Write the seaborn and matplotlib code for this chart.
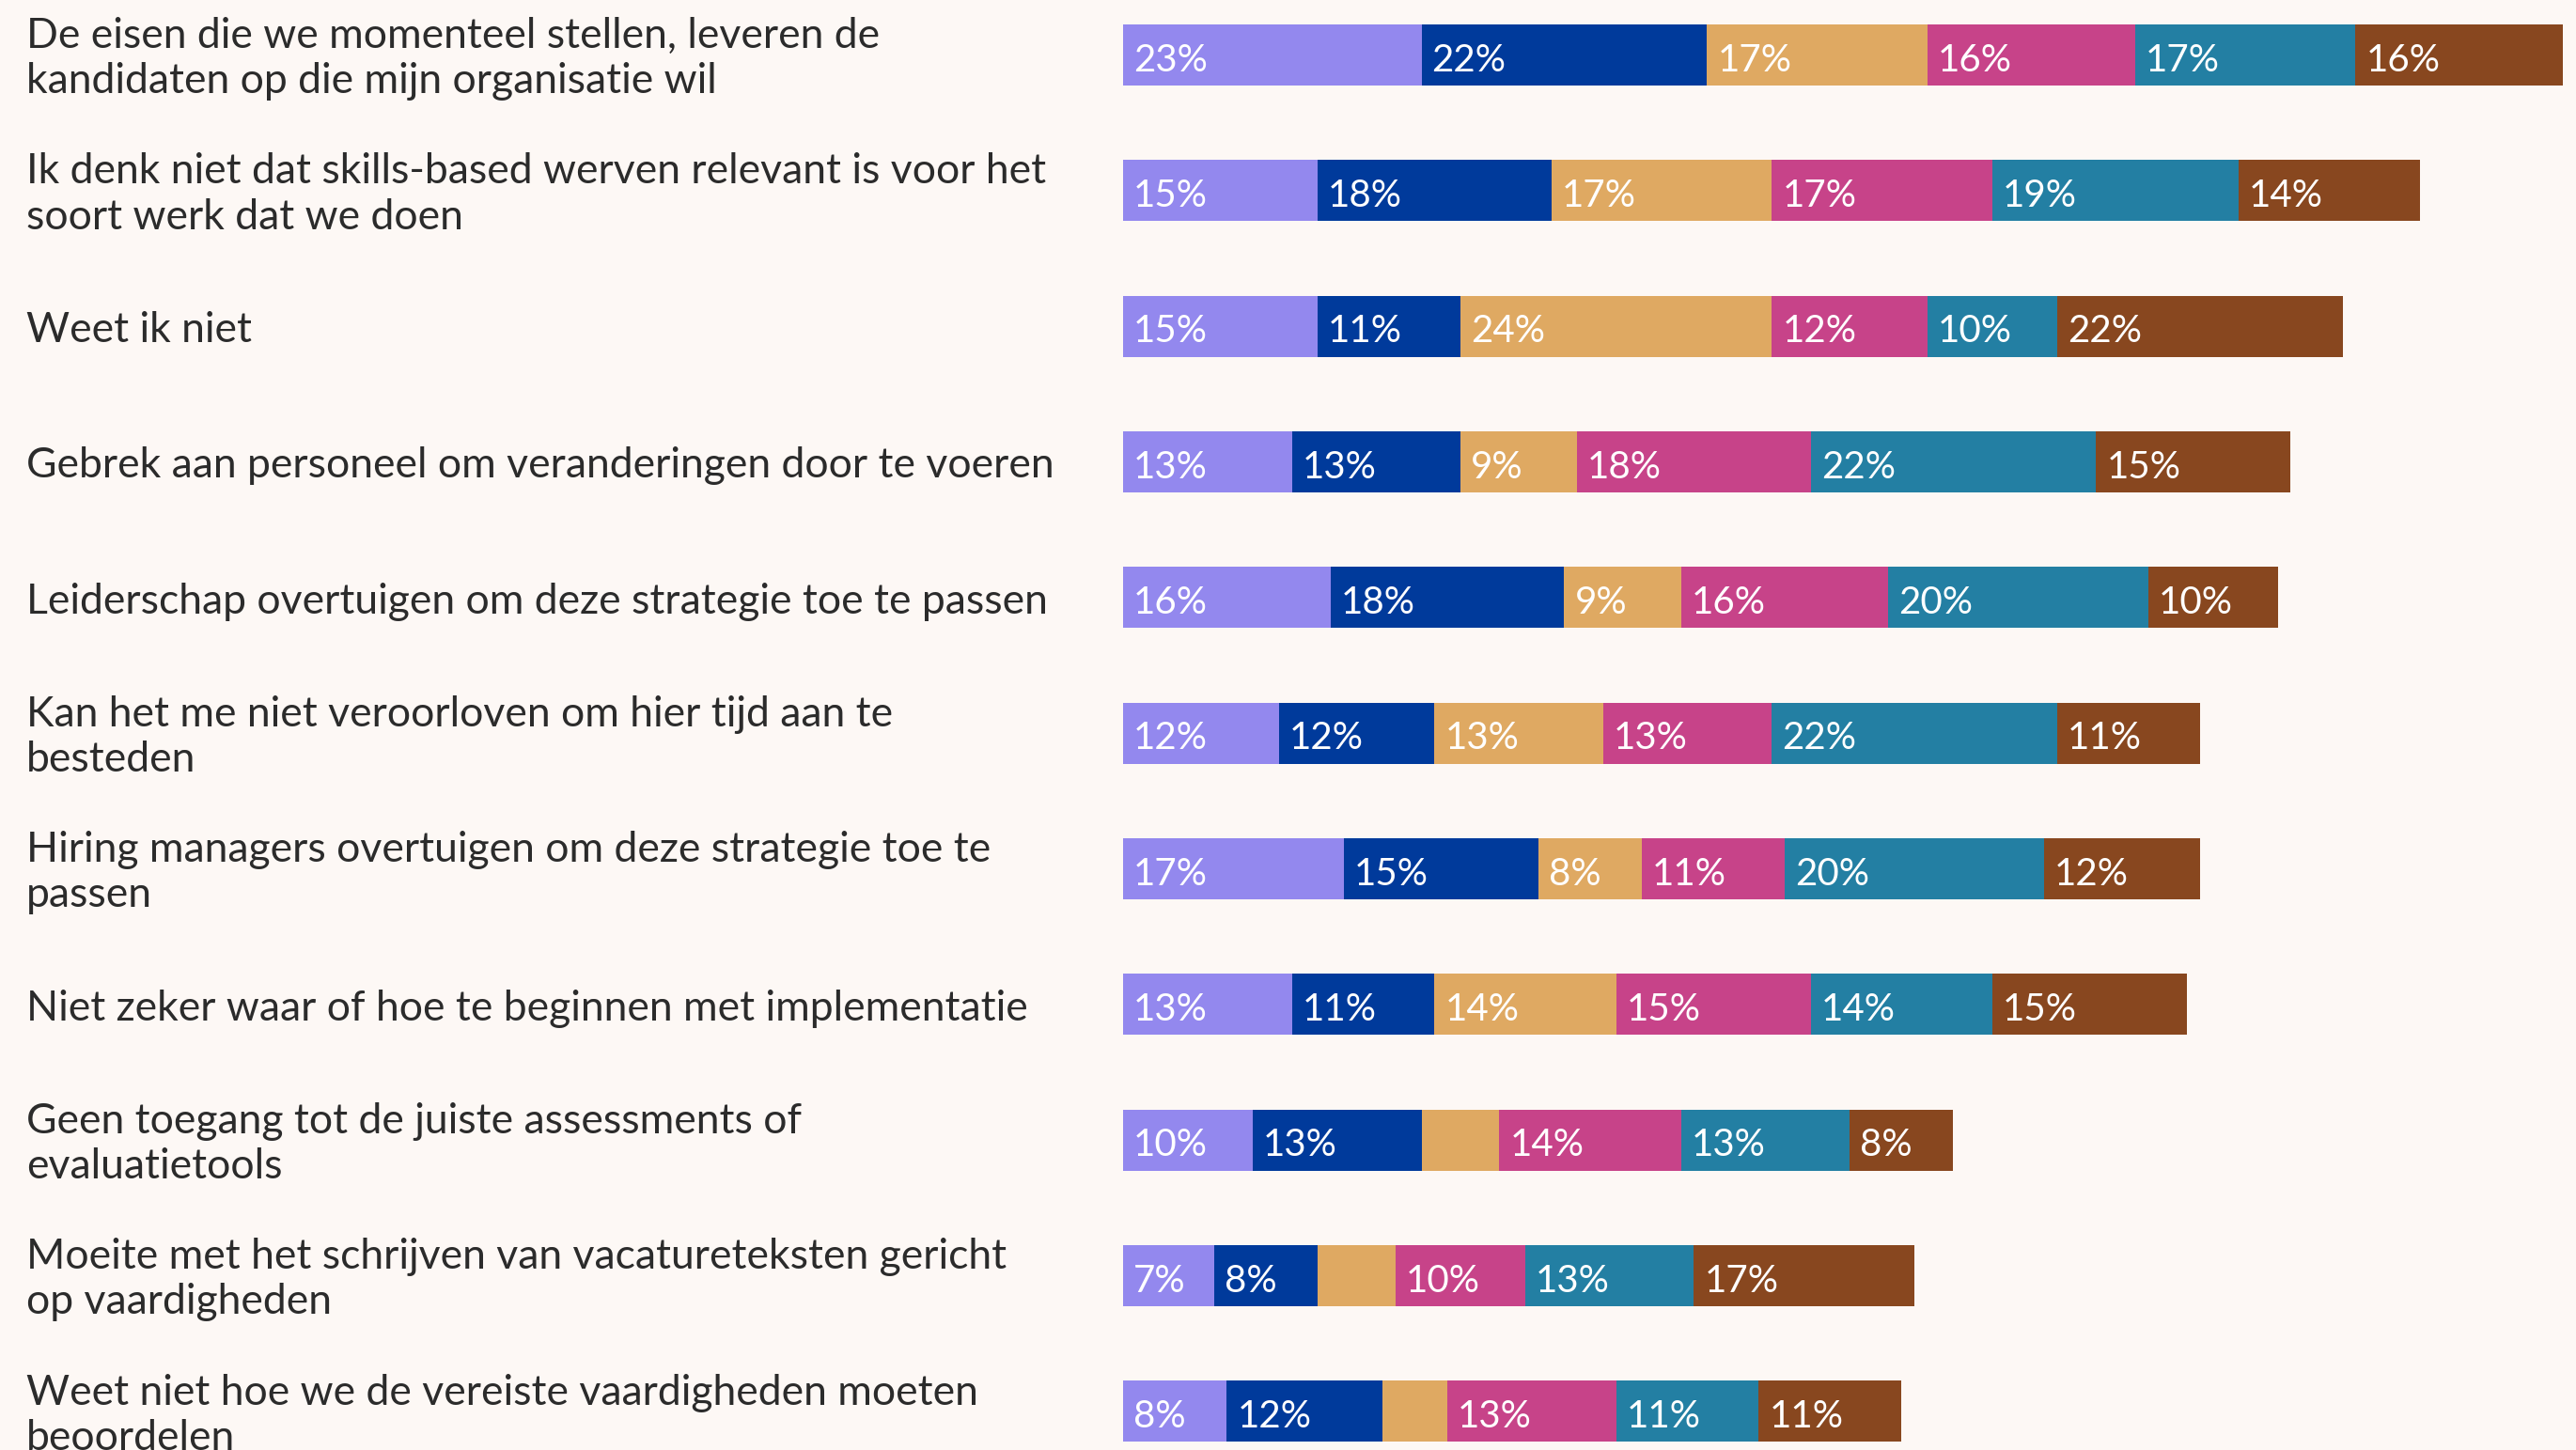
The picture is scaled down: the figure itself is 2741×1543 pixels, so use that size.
import pandas as pd
import numpy as np
import matplotlib.pyplot as plt
import seaborn as sns

# --- Data ---
labels = [
    "De eisen die we momenteel stellen, leveren de\nkandidaten op die mijn organisatie wil",
    "Ik denk niet dat skills-based werven relevant is voor het\nsoort werk dat we doen",
    "Weet ik niet",
    "Gebrek aan personeel om veranderingen door te voeren",
    "Leiderschap overtuigen om deze strategie toe te passen",
    "Kan het me niet veroorloven om hier tijd aan te\nbesteden",
    "Hiring managers overtuigen om deze strategie toe te\npassen",
    "Niet zeker waar of hoe te beginnen met implementatie",
    "Geen toegang tot de juiste assessments of\nevaluatietools",
    "Moeite met het schrijven van vacatureteksten gericht\nop vaardigheden",
    "Weet niet hoe we de vereiste vaardigheden moeten\nbeoordelen",
]
seg1 = [23, 15, 15, 13, 16, 12, 17, 13, 10, 7, 8]
seg2 = [22, 18, 11, 13, 18, 12, 15, 11, 13, 8, 12]
seg3 = [17, 17, 24, 9, 9, 13, 8, 14, 6, 6, 5]
seg4 = [16, 17, 12, 18, 16, 13, 11, 15, 14, 10, 13]
seg5 = [17, 19, 10, 22, 20, 22, 20, 14, 13, 13, 11]
seg6 = [16, 14, 22, 15, 10, 11, 12, 15, 8, 17, 11]

segments = [seg1, seg2, seg3, seg4, seg5, seg6]
colors = ["#9388EE", "#003A9B", "#DFA962", "#C74389", "#237FA3", "#88471F"]

df = pd.DataFrame({f"s{i+1}": s for i, s in enumerate(segments)})
df["label"] = labels
seg_cols = [f"s{i+1}" for i in range(6)]
cum = df[seg_cols].cumsum(axis=1)

# --- Plotting ---
bg = "#FDF8F5"
sns.set_style("white")
plt.rcParams['font.family'] = ['Lato', 'DejaVu Sans']

fig = plt.figure(figsize=(27.41, 15.43), dpi=100, facecolor=bg)
ax = fig.add_axes([0.436, 0.0, 0.564, 1.0])
ax.set_facecolor(bg)

# stacked bars: draw cumulative totals from largest to smallest
for i in reversed(range(6)):
    sns.barplot(x=cum[seg_cols[i]], y=df["label"], orient="h", color=colors[i],
                width=0.45, saturation=1, ax=ax, linewidth=0)

# percentage labels inside segments
for r in range(len(df)):
    left = 0
    for i in range(6):
        v = df.loc[r, seg_cols[i]]
        if v >= 7:
            ax.text(left + 0.8, r + 0.04, f"{v}%", color="white", fontsize=29,
                    va="center", ha="left")
        left += v

ax.set_xlim(0, 112)
ax.set_ylim(10.285, -0.405)
ax.set_xlabel("")
ax.set_ylabel("")
ax.set_xticks([])
ax.set_yticks([])
for s in ax.spines.values():
    s.set_visible(False)

# category labels on the left
for r, lab in enumerate(labels):
    y_fig = ax.transData.transform((0, r + 0.03))[1]
    fig.text(0.0102, fig.transFigure.inverted().transform((0, y_fig))[1], lab,
             fontsize=32, color="#2B2B2B", ha="left", va="center", linespacing=1.22)

fig.savefig("out.png", dpi=100, facecolor=bg)
